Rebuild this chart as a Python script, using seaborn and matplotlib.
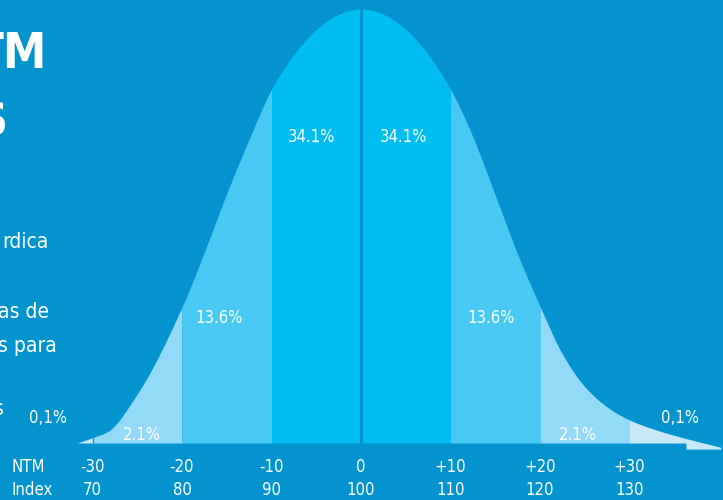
import numpy as np
import pandas as pd
import matplotlib
matplotlib.use("Agg")
import matplotlib.pyplot as plt
import seaborn as sns

# ---------------- data ----------------
# curve outline: NTM value -> relative height (peak = 100)
curve_x = [-31.7, -29.5, -28.4, -25, -20, -17.5, -15, -12.5, -10, -7.5, -5, -3.75, -2.5, -1.25, 0,
           1.25, 2.5, 3.75, 5, 7.5, 10, 12.2, 15.2, 17.5, 20, 22.5, 25, 27.5, 30, 33, 36, 40.2]
curve_y = [0, 1.6, 2.5, 11.3, 31.3, 44, 57.5, 70, 81.5, 89.5, 95.3, 97.3, 98.8, 99.7, 100,
           99.7, 98.8, 97.3, 95.3, 89.5, 81.5, 72, 56, 43.5, 31.5, 20.5, 13, 8.3, 5.3, 3, 1.2, -1.0]

band_edges = [-31.7, -30, -20, -10, 0, 10, 20, 30, 40.2]
band_labels = ["", "2.1%", "13.6%", "34.1%", "34.1%", "13.6%", "2.1%", ""]
tail_labels = ["0,1%", "0,1%"]

ntm_ticks = [-30, -20, -10, 0, 10, 20, 30]
ntm_labels = ["-30", "-20", "-10", "0", "+10", "+20", "+30"]
index_labels = ["70", "80", "90", "100", "110", "120", "130"]

side_texts = ["TM", "S", "rdica", "as de", "s para", "s"]

# ---------------- styling ----------------
BG = "#0393CF"
C_CENTER = "#00BDF2"
C_MID = "#47C9F4"
C_LIGHT = "#93DAF8"
C_PALE = "#C8E9F8"
C_LINE = "#0790CC"
band_colors = [C_PALE, C_LIGHT, C_MID, C_CENTER, C_CENTER, C_MID, C_LIGHT, C_PALE]

sns.set_theme(style="white")
plt.rcParams["font.family"] = ["DejaVu Sans"]

W, H = 723, 500
fig = plt.figure(figsize=(W / 100, H / 100), dpi=100)
fig.patch.set_facecolor(BG)
ax = fig.add_axes([0, 0, 1, 1])
ax.set_facecolor(BG)

# pixel mapping: x px = 361 + 8.95 * ntm ; y px = 443 - 4.34 * h
PXX, PXY = 8.95, 4.34
ax.set_xlim(-361 / PXX, (W - 361) / PXX)
ax.set_ylim(-(H - 443) / PXY, 443 / PXY)
ax.axis("off")

cx = np.asarray(curve_x, float)
cy = np.asarray(curve_y, float)

# monotone cubic (Fritsch-Carlson) slopes through the read points
hk = np.diff(cx)
dk = np.diff(cy) / hk
m = np.zeros_like(cy)
m[0], m[-1] = dk[0], dk[-1]
for k in range(1, len(cx) - 1):
    if dk[k - 1] * dk[k] > 0:
        w1 = 2 * hk[k] + hk[k - 1]
        w2 = hk[k] + 2 * hk[k - 1]
        m[k] = (w1 + w2) / (w1 / dk[k - 1] + w2 / dk[k])


def curve(xq):
    xq = np.clip(np.asarray(xq, float), cx[0], cx[-1])
    i = np.clip(np.searchsorted(cx, xq) - 1, 0, len(cx) - 2)
    h = cx[i + 1] - cx[i]
    t = (xq - cx[i]) / h
    h00 = 2 * t**3 - 3 * t**2 + 1
    h10 = t**3 - 2 * t**2 + t
    h01 = -2 * t**3 + 3 * t**2
    h11 = t**3 - t**2
    return h00 * cy[i] + h10 * h * m[i] + h01 * cy[i + 1] + h11 * h * m[i + 1]


# bands
for k in range(len(band_colors)):
    a, b = band_edges[k], band_edges[k + 1]
    xs = np.linspace(a, b, 400)
    ys = curve(xs)
    if k == len(band_colors) - 1:
        low = np.where(xs >= 36.3, -1.4, 0.0)
        ys = np.maximum(ys, low)
    else:
        low = np.zeros_like(xs)
    ax.fill_between(xs, low, ys, color=band_colors[k], lw=0, zorder=2)

# center line and left -30 mark
ax.vlines(0, 0, float(curve(0)), color=C_LINE, lw=2.0, zorder=4)
ax.vlines(-30, 0, float(curve(-30)), color=C_LINE, lw=1.0, zorder=4)

# text
fp = dict(family="DejaVu Sans", stretch="condensed", color="white")
label_x = [None, -24.5, -15.9, -5.5, 4.7, 14.5, 24.2, None]
label_y = [None, 1.9, 28.8, 70.5, 70.5, 28.8, 1.9, None]
for lab, lx, ly in zip(band_labels, label_x, label_y):
    if lab:
        ax.text(lx, ly, lab, ha="center", va="center", fontsize=12, zorder=5, **fp)
ax.text(-35.0, 5.8, tail_labels[0], ha="center", va="center", fontsize=12, zorder=5, **fp)
ax.text(35.6, 5.8, tail_labels[1], ha="center", va="center", fontsize=12, zorder=5, **fp)

row1_y = -(467 - 443) / PXY
row2_y = -(490 - 443) / PXY
ax.text((28 - 361) / PXX, row1_y, "NTM", ha="center", va="center", fontsize=12, **fp)
ax.text((32 - 361) / PXX, row2_y, "Index", ha="center", va="center", fontsize=12, **fp)
for t, l1, l2 in zip(ntm_ticks, ntm_labels, index_labels):
    ax.text(t, row1_y, l1, ha="center", va="center", fontsize=12, **fp)
    ax.text(t, row2_y, l2, ha="center", va="center", fontsize=12, **fp)


# cut-off text on the left edge (figure pixel coordinates)
def fig_text(px, py, s, size, weight="normal"):
    fig.text(px / W, 1 - py / H, s, ha="right", va="baseline", fontsize=size,
             fontweight=weight, family="DejaVu Sans", stretch="condensed", color="white")


fig_text(47, 68, side_texts[0], 35, "bold")
fig_text(7, 135, side_texts[1], 32, "bold")
fig_text(49, 248, side_texts[2], 15)
fig_text(49, 318, side_texts[3], 15)
fig_text(57, 352, side_texts[4], 15)
fig_text(4, 415, side_texts[5], 15)

fig.savefig("out.png", dpi=100, facecolor=BG)
